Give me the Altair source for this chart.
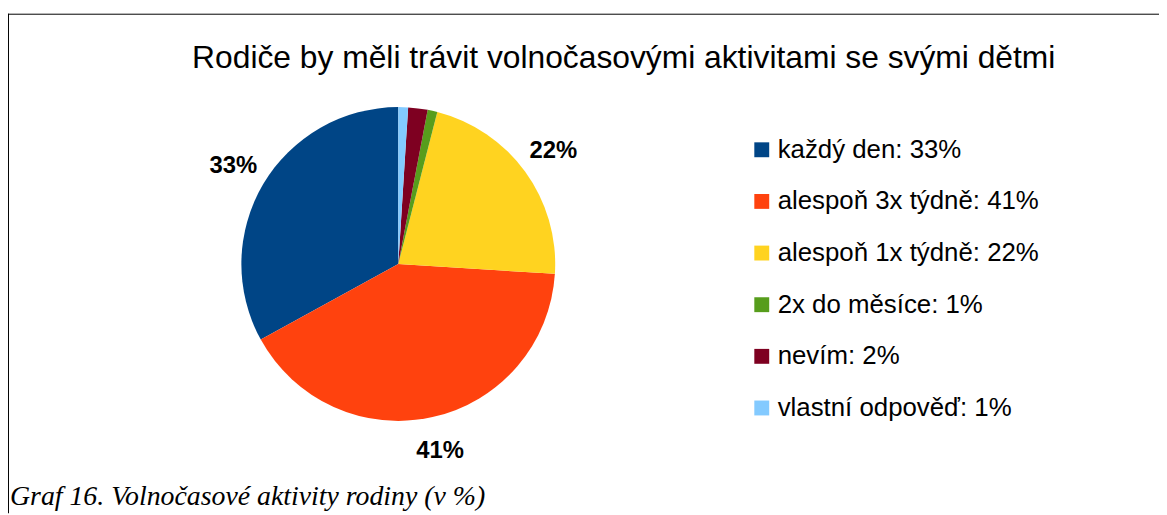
import altair as alt
import pandas as pd

categories = ["každý den", "alespoň 3x týdně", "alespoň 1x týdně", "2x do měsíce", "nevím", "vlastní odpověď"]
values = [33, 41, 22, 1, 2, 1]
colors = ["#004586", "#ff420e", "#ffd320", "#579d1c", "#7e0021", "#83caff"]
title_text = "Rodiče by měli trávit volnočasovými aktivitami se svými dětmi"
caption_text = "Graf 16. Volnočasové aktivity rodiny (v %)"

legend_labels = [f"{c}: {v}%" for c, v in zip(categories, values)]
df = pd.DataFrame({
    "cat": categories,
    "val": values,
    "legend": legend_labels,
    "ord": [len(categories) - i for i in range(len(categories))],
    "pct": [f"{v}%" if v >= 5 else "" for v in values],
})
one = pd.DataFrame({"k": [0]})

W, H = 1159, 507
CX, CY, R = 393, 256, 158

color = alt.Color(
    "legend:N",
    scale=alt.Scale(domain=legend_labels, range=colors),
    legend=alt.Legend(
        title=None, orient="none", legendX=746, legendY=128,
        symbolType="square", symbolSize=225, symbolStrokeWidth=0,
        labelFont="Liberation Sans", labelFontSize=26, labelColor="#000000",
        labelLimit=400, labelOffset=3, rowPadding=26, padding=0,
    ),
)

base = alt.Chart(df).encode(
    theta=alt.Theta("val:Q", stack=True),
    order=alt.Order("ord:Q"),
)

arcs = base.mark_arc(outerRadius=R, stroke=None).encode(
    color=color, x=alt.value(CX), y=alt.value(CY)
)

labels = base.mark_text(
    radius=193, font="Liberation Sans", fontSize=24, fontWeight="bold", color="#000000"
).encode(text="pct:N", x=alt.value(CX), y=alt.value(CY))

title = alt.Chart(one).mark_text(
    font="Liberation Sans", fontSize=32, fontWeight="normal", color="#000000",
    align="center", baseline="alphabetic"
).encode(x=alt.value(620), y=alt.value(59), text=alt.value(title_text))

caption = alt.Chart(one).mark_text(
    font="Liberation Serif", fontSize=28, fontStyle="italic", fontWeight="normal",
    color="#000000", align="left", baseline="alphabetic"
).encode(x=alt.value(2), y=alt.value(499), text=alt.value(caption_text))

top_rule = alt.Chart(one).mark_rule(color="#000000", strokeWidth=1).encode(
    x=alt.value(0), x2=alt.value(W), y=alt.value(4.5)
)
left_rule = alt.Chart(one).mark_rule(color="#000000", strokeWidth=1).encode(
    x=alt.value(0.5), y=alt.value(4), y2=alt.value(H)
)

chart = alt.layer(top_rule, left_rule, arcs, labels, title, caption).properties(
    width=W, height=H, padding=0, autosize=alt.AutoSizeParams(type="none")
).configure_view(stroke=None)

chart.save("out.html", embed_options={"renderer": "svg", "actions": False})
